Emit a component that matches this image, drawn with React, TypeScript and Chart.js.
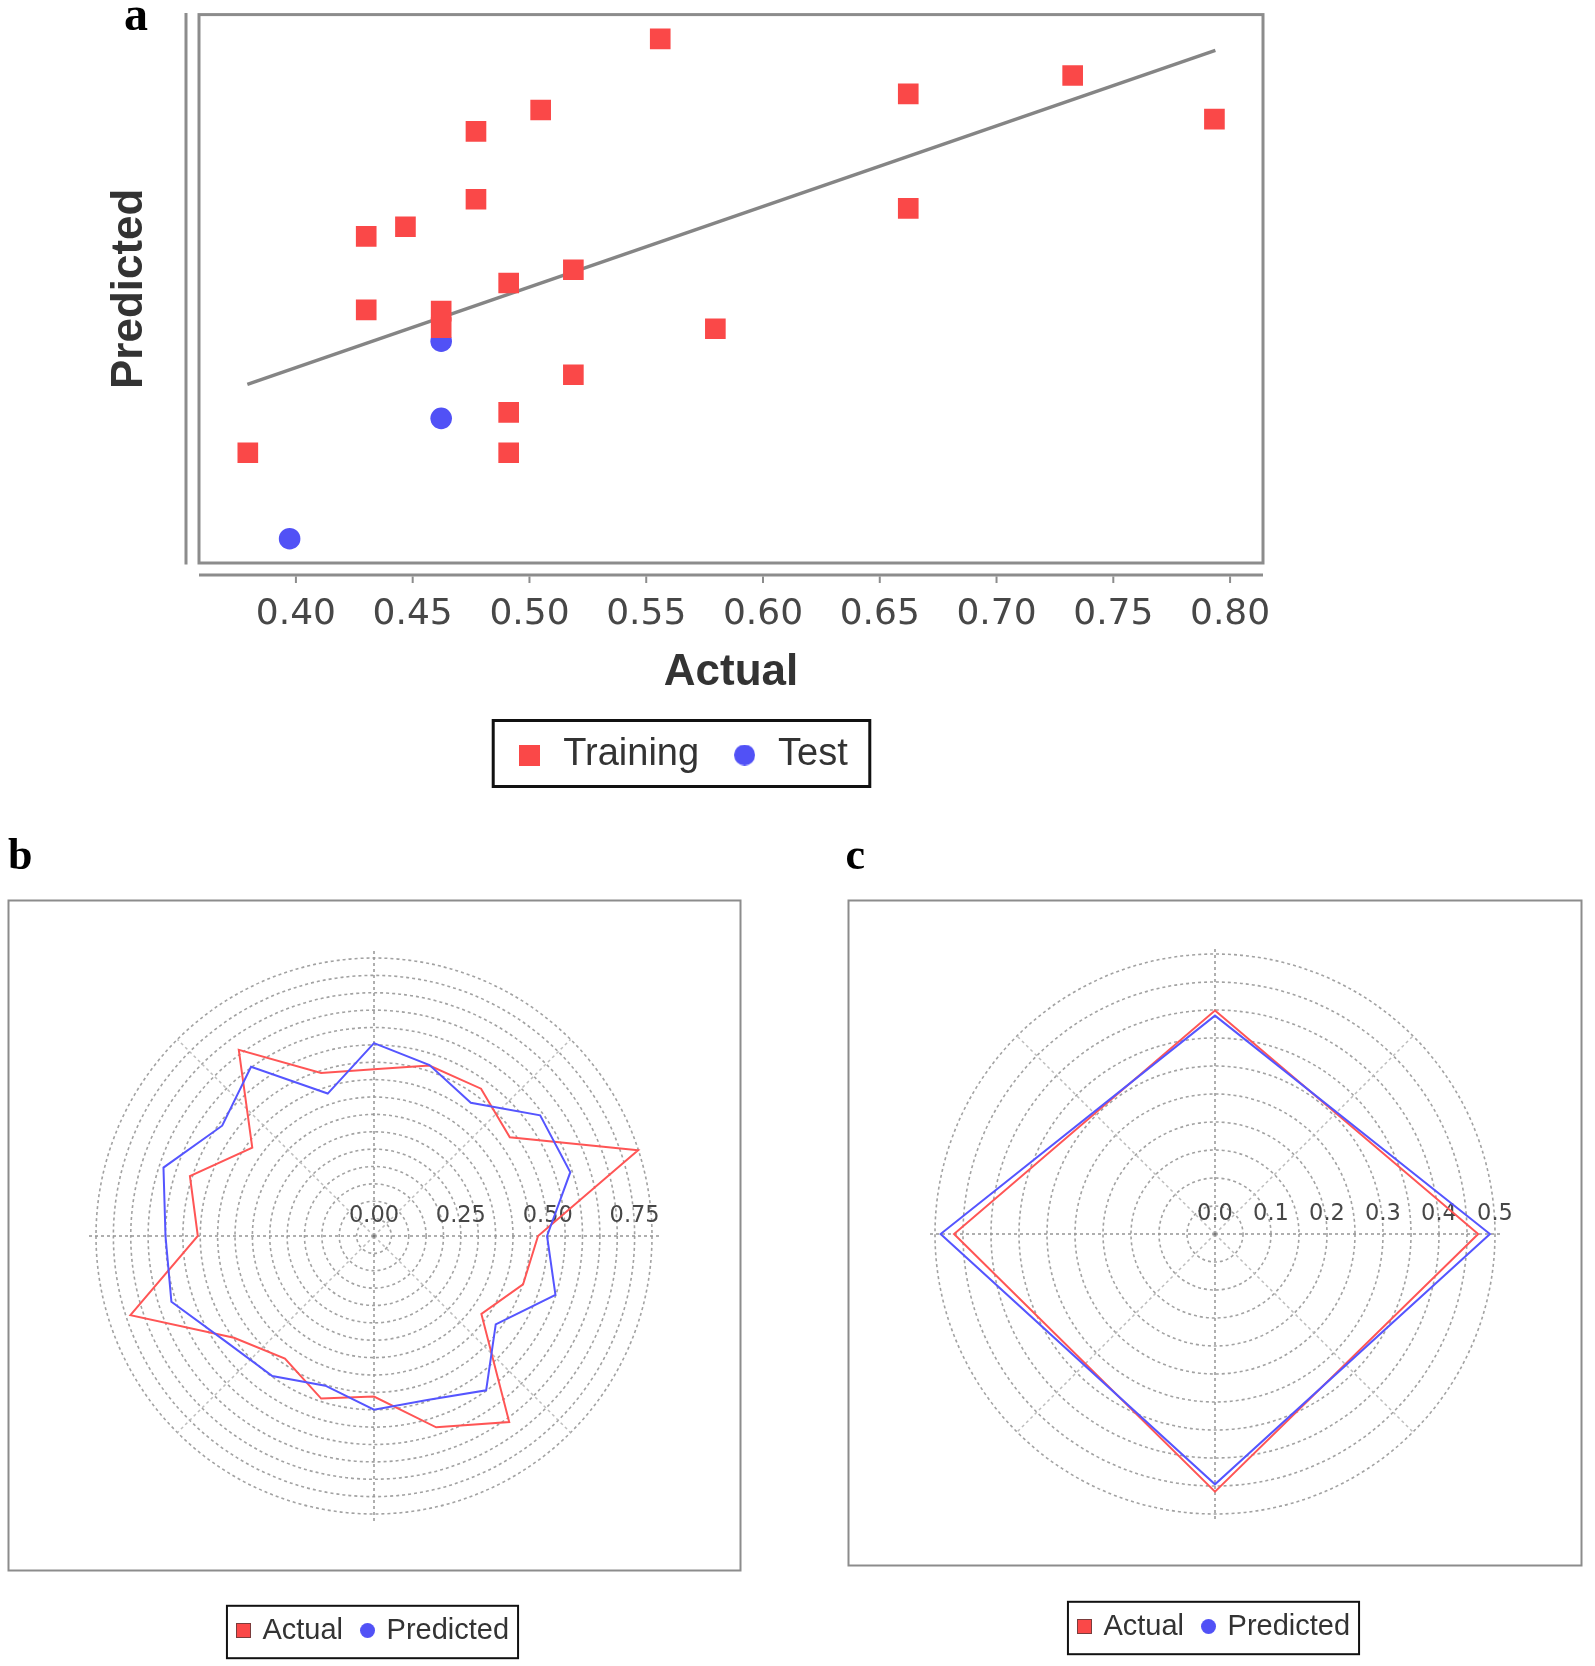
import React, { useEffect, useRef } from 'react';
import { Chart, registerables } from 'chart.js';

Chart.register(...registerables);

// ---------- Panel a: scatter of Actual vs Predicted ----------
const trainingActual = [0.3794, 0.4301, 0.4301, 0.4469, 0.4622, 0.4622, 0.4771, 0.4771, 0.4911, 0.4911, 0.4911, 0.5048, 0.5188, 0.5188, 0.556, 0.5796, 0.6622, 0.6622, 0.7326, 0.7933];
const trainingPredicted = [0.431, 0.5387, 0.5021, 0.5435, 0.5015, 0.4933, 0.591, 0.5572, 0.5155, 0.4511, 0.431, 0.6016, 0.5221, 0.4698, 0.637, 0.4927, 0.6096, 0.5526, 0.6188, 0.5971];
const testActual = [0.3973, 0.4622, 0.4622];
const testPredicted = [0.3882, 0.4481, 0.4865];
const fitActual = [0.3792, 0.7937];
const fitPredicted = [0.465, 0.6313];
const actualAxisRange = [0.3585, 0.8141];
const predictedAxisRange = [0.3761, 0.6491];
const actualTickStep = 0.05;
const seriesNamesA = ['Training', 'Test'];

// ---------- Panel b: polar plot (20 training compounds) ----------
const anglesB = ['0', '18', '36', '54', '72', '90', '108', '126', '144', '162', '180', '198', '216', '234', '252', '270', '288', '306', '324', '342'];
const actualB = [0.48, 0.516, 0.524, 0.483, 0.799, 0.472, 0.451, 0.382, 0.662, 0.579, 0.462, 0.492, 0.436, 0.498, 0.737, 0.507, 0.557, 0.433, 0.662, 0.493];
const predictedB = [0.555, 0.517, 0.474, 0.591, 0.594, 0.498, 0.549, 0.433, 0.549, 0.496, 0.5, 0.453, 0.498, 0.522, 0.613, 0.6, 0.637, 0.54, 0.602, 0.431];
const radialMaxB = 0.8;
const radialStepB = 0.05;
const radialLabelStepB = 0.25;
const radialDecimalsB = 2;

// ---------- Panel c: polar plot (test compounds) ----------
const anglesC = ['0', '90', '180', '270'];
const actualC = [0.399, 0.47, 0.46, 0.466];
const predictedC = [0.39, 0.491, 0.447, 0.49];
const radialMaxC = 0.5;
const radialStepC = 0.05;
const radialLabelStepC = 0.1;
const radialDecimalsC = 1;
const seriesNamesBC = ['Actual', 'Predicted'];

const RED = '#fa4848';
const BLUE = '#5151f6';
const LINE_RED = '#ff5555';
const LINE_BLUE = '#5555ff';
const SANS = '"Liberation Sans", Arial, sans-serif';
const DEJAVU = '"DejaVu Sans", sans-serif';

function makeSymbol(shape: 'rect' | 'circle', size: number, fill: string, stroke?: string) {
  const c = document.createElement('canvas');
  c.width = size;
  c.height = size;
  const g = c.getContext('2d') as CanvasRenderingContext2D;
  g.fillStyle = fill;
  if (shape === 'rect') {
    g.fillRect(0, 0, size, size);
    if (stroke) {
      g.strokeStyle = stroke;
      g.lineWidth = 1;
      g.strokeRect(0.5, 0.5, size - 1, size - 1);
    }
  } else {
    g.beginPath();
    g.arc(size / 2, size / 2, size / 2, 0, Math.PI * 2);
    g.fill();
  }
  return c;
}

function legendFrame(id: string, m: { l: number; r: number; t: number; b: number; w: number }) {
  return {
    id,
    afterDraw(chart: any) {
      const lg = chart.legend;
      const hb = lg && lg.legendHitBoxes;
      if (!hb || !hb.length) return;
      const first = hb[0];
      const last = hb[hb.length - 1];
      const cy = first.top + first.height / 2;
      const ctx = chart.ctx;
      ctx.save();
      ctx.strokeStyle = '#111';
      ctx.lineWidth = m.w;
      const x0 = first.left - m.l;
      const x1 = last.left + last.width + m.r;
      ctx.strokeRect(x0, cy - m.t, x1 - x0, m.t + m.b);
      ctx.restore();
    },
  };
}

function ScatterPanel() {
  const ref = useRef<HTMLCanvasElement>(null);
  useEffect(() => {
    const canvas = ref.current;
    if (!canvas) return;
    const symRect = makeSymbol('rect', 21, RED);
    const symCircle = makeSymbol('circle', 21, BLUE);
    const axesPlugin = {
      id: 'axesA',
      beforeDatasetsDraw(chart: any) {
        const { ctx, chartArea: a } = chart;
        ctx.save();
        ctx.strokeStyle = '#8c8c8c';
        ctx.lineWidth = 3;
        ctx.strokeRect(a.left, a.top, a.right - a.left, a.bottom - a.top);
        ctx.beginPath();
        ctx.moveTo(a.left - 13, a.top - 1.5);
        ctx.lineTo(a.left - 13, a.bottom + 1.5);
        ctx.stroke();
        ctx.beginPath();
        ctx.moveTo(a.left, a.bottom + 12);
        ctx.lineTo(a.right, a.bottom + 12);
        ctx.stroke();
        const xs = chart.scales.x;
        ctx.lineWidth = 2;
        xs.ticks.forEach((t: any) => {
          const px = xs.getPixelForValue(t.value);
          ctx.beginPath();
          ctx.moveTo(px, a.bottom + 13.5);
          ctx.lineTo(px, a.bottom + 20);
          ctx.stroke();
        });
        ctx.restore();
      },
    };
    const chart = new Chart(canvas, {
      type: 'scatter',
      data: {
        datasets: [
          {
            label: seriesNamesA[0],
            data: trainingActual.map((x, i) => ({ x, y: trainingPredicted[i] })),
            pointStyle: 'rect',
            pointRadius: 14.6,
            pointHoverRadius: 14.6,
            backgroundColor: RED,
            borderWidth: 0,
            order: 0,
          },
          {
            label: seriesNamesA[1],
            data: testActual.map((x, i) => ({ x, y: testPredicted[i] })),
            pointStyle: 'circle',
            pointRadius: 10.8,
            pointHoverRadius: 10.8,
            backgroundColor: BLUE,
            borderWidth: 0,
            order: 1,
          },
          {
            label: 'fit',
            data: fitActual.map((x, i) => ({ x, y: fitPredicted[i] })),
            showLine: true,
            borderColor: '#858585',
            borderWidth: 3.5,
            pointRadius: 0,
            fill: false,
            order: 2,
          },
        ],
      } as any,
      options: {
        animation: false,
        responsive: false,
        devicePixelRatio: 1,
        layout: { padding: { left: 0, right: 0, top: 13, bottom: 16 } },
        scales: {
          x: {
            type: 'linear',
            position: 'bottom',
            min: actualAxisRange[0],
            max: actualAxisRange[1],
            afterFit: (s: any) => { s.height = 142; },
            grid: { display: false },
            border: { display: false },
            ticks: {
              stepSize: actualTickStep,
              includeBounds: false,
              autoSkip: false,
              maxRotation: 0,
              padding: 22,
              color: '#474747',
              font: { family: DEJAVU, size: 36 },
              callback: (v: any) => Number(v).toFixed(2),
            },
            title: {
              display: true,
              text: 'Actual',
              color: '#333',
              font: { family: SANS, size: 44, weight: 'bold' },
              padding: { top: 0, bottom: 5.6 },
            },
          },
          y: {
            type: 'linear',
            position: 'left',
            min: predictedAxisRange[0],
            max: predictedAxisRange[1],
            afterFit: (s: any) => { s.width = 199; },
            grid: { display: false },
            border: { display: false },
            ticks: { display: false },
            title: {
              display: true,
              text: 'Predicted',
              color: '#333',
              font: { family: SANS, size: 44, weight: 'bold' },
              padding: { top: 103.6, bottom: 0 },
            },
          },
          yRight: {
            type: 'linear',
            position: 'right',
            afterFit: (s: any) => { s.width = 100; },
            grid: { display: false },
            border: { display: false },
            ticks: { display: false },
          },
        } as any,
        plugins: {
          tooltip: { enabled: false },
          legend: {
            display: true,
            position: 'bottom',
            labels: {
              usePointStyle: true,
              boxWidth: 29,
              padding: 31,
              color: '#333',
              font: { family: SANS, size: 38 },
              generateLabels: () => [
                { text: seriesNamesA[0], fillStyle: RED, strokeStyle: RED, lineWidth: 0, pointStyle: symRect, hidden: false, datasetIndex: 0, fontColor: '#333' },
                { text: seriesNamesA[1], fillStyle: BLUE, strokeStyle: BLUE, lineWidth: 0, pointStyle: symCircle, hidden: false, datasetIndex: 1, fontColor: '#333' },
              ] as any,
            },
          },
        },
      } as any,
      plugins: [axesPlugin, legendFrame('legendFrameA', { l: 22, r: 22, t: 34.5, b: 31.5, w: 3 })],
    });
    return () => chart.destroy();
  }, []);
  return (
    <canvas
      ref={ref}
      width={1363}
      height={800}
      style={{ position: 'absolute', left: 0, top: 0, width: 1363, height: 800 }}
    />
  );
}

type PolarProps = {
  left: number;
  labels: string[];
  actual: number[];
  predicted: number[];
  max: number;
  step: number;
  labelStep: number;
  decimals: number;
  padding: { left: number; right: number; top: number; bottom: number };
  frame: { x: number; y: number; w: number; h: number };
};

function PolarPanel(p: PolarProps) {
  const ref = useRef<HTMLCanvasElement>(null);
  useEffect(() => {
    const canvas = ref.current;
    if (!canvas) return;
    const symRect = makeSymbol('rect', 15, RED, '#7a3c3c');
    const symCircle = makeSymbol('circle', 15, BLUE);
    const decor = {
      id: 'polarDecor',
      beforeDatasetsDraw(chart: any) {
        const ctx = chart.ctx;
        const r = chart.scales.r;
        const cx = r.xCenter;
        const cy = r.yCenter;
        const R = r.drawingArea;
        ctx.save();
        // frame
        ctx.strokeStyle = '#8c8c8c';
        ctx.lineWidth = 2;
        ctx.strokeRect(p.frame.x, p.frame.y, p.frame.w, p.frame.h);
        // spokes every 45 degrees
        ctx.lineWidth = 1.5;
        ctx.setLineDash([3, 3]);
        for (let k = 0; k < 8; k++) {
          const ang = (k * Math.PI) / 4;
          const main = k % 2 === 0;
          const len = main ? R + 7 : R;
          ctx.strokeStyle = main ? '#959595' : '#bdbdbd';
          ctx.beginPath();
          ctx.moveTo(cx, cy);
          ctx.lineTo(cx + len * Math.sin(ang), cy - len * Math.cos(ang));
          ctx.stroke();
        }
        ctx.setLineDash([]);
        ctx.fillStyle = '#777';
        ctx.beginPath();
        ctx.arc(cx, cy, 1.6, 0, Math.PI * 2);
        ctx.fill();
        // tick labels along the 90 degree axis
        ctx.font = '22.5px ' + DEJAVU;
        ctx.fillStyle = '#474747';
        ctx.textAlign = 'center';
        ctx.textBaseline = 'middle';
        const every = Math.round(p.labelStep * 100);
        r.ticks.forEach((t: any) => {
          if (Math.round(t.value * 100) % every === 0) {
            const d = r.getDistanceFromCenterForValue(t.value);
            ctx.fillText(Number(t.value).toFixed(p.decimals), cx + d, cy - 20);
          }
        });
        ctx.restore();
      },
    };
    const chart = new Chart(canvas, {
      type: 'radar',
      data: {
        labels: p.labels,
        datasets: [
          { label: seriesNamesBC[0], data: p.actual, borderColor: LINE_RED, backgroundColor: LINE_RED, borderWidth: 2, pointRadius: 0, pointHoverRadius: 0, fill: false, tension: 0, order: 1 },
          { label: seriesNamesBC[1], data: p.predicted, borderColor: LINE_BLUE, backgroundColor: LINE_BLUE, borderWidth: 2, pointRadius: 0, pointHoverRadius: 0, fill: false, tension: 0, order: 0 },
        ],
      } as any,
      options: {
        animation: false,
        responsive: false,
        devicePixelRatio: 1,
        layout: { padding: p.padding },
        scales: {
          r: {
            min: 0,
            max: p.max,
            beginAtZero: true,
            ticks: { display: false, stepSize: p.step },
            grid: { circular: true, color: '#a2a2a2', lineWidth: 1.6 },
            border: { dash: [3, 3] },
            angleLines: { display: false },
            pointLabels: { display: false },
          },
        } as any,
        plugins: {
          tooltip: { enabled: false },
          legend: {
            display: true,
            position: 'bottom',
            labels: {
              usePointStyle: true,
              boxWidth: 9,
              padding: 20,
              color: '#333',
              font: { family: SANS, size: 29 },
              generateLabels: () => [
                { text: seriesNamesBC[0], fillStyle: RED, strokeStyle: RED, lineWidth: 0, pointStyle: symRect, hidden: false, datasetIndex: 0, fontColor: '#333' },
                { text: seriesNamesBC[1], fillStyle: BLUE, strokeStyle: BLUE, lineWidth: 0, pointStyle: symCircle, hidden: false, datasetIndex: 1, fontColor: '#333' },
              ] as any,
            },
          },
        },
      } as any,
      plugins: [decor, legendFrame('legendFramePolar', { l: 12, r: 9, t: 24.7, b: 27.7, w: 2 })],
    });
    return () => chart.destroy();
  }, []);
  return (
    <canvas
      ref={ref}
      width={750}
      height={796}
      style={{ position: 'absolute', left: p.left, top: 870, width: 750, height: 796 }}
    />
  );
}

const labelStyle: React.CSSProperties = {
  position: 'absolute',
  fontFamily: '"Liberation Serif", "Times New Roman", serif',
  fontWeight: 'bold',
  color: '#000',
  margin: 0,
};

export default function App() {
  return (
    <div style={{ position: 'absolute', left: 0, top: 0, width: 1595, height: 1666, background: '#fff', overflow: 'hidden' }}>
      <ScatterPanel />
      <PolarPanel
        left={0}
        labels={anglesB}
        actual={actualB}
        predicted={predictedB}
        max={radialMaxB}
        step={radialStepB}
        labelStep={radialLabelStepB}
        decimals={radialDecimalsB}
        padding={{ left: 96, right: 98, top: 6, bottom: 11 }}
        frame={{ x: 8.5, y: 30.5, w: 732, h: 670 }}
      />
      <PolarPanel
        left={840}
        labels={anglesC}
        actual={actualC}
        predicted={predictedC}
        max={radialMaxC}
        step={radialStepC}
        labelStep={radialLabelStepC}
        decimals={radialDecimalsC}
        padding={{ left: 95, right: 95, top: 6, bottom: 15 }}
        frame={{ x: 8.5, y: 30.5, w: 733, h: 665 }}
      />
      <div style={{ ...labelStyle, left: 124, top: -9.6, fontSize: 48, lineHeight: '48px' }}>a</div>
      <div style={{ ...labelStyle, left: 8, top: 833, fontSize: 44, lineHeight: '44px' }}>b</div>
      <div style={{ ...labelStyle, left: 845.5, top: 833, fontSize: 44, lineHeight: '44px' }}>c</div>
    </div>
  );
}
